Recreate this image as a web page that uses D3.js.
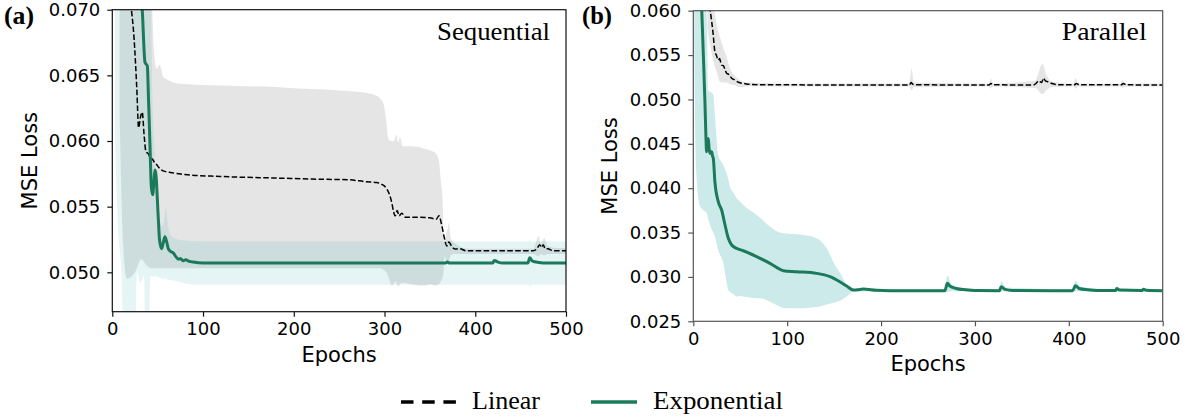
<!DOCTYPE html>
<html><head><meta charset="utf-8">
<script src="https://cdn.jsdelivr.net/npm/d3@7"></script>
<style>body{margin:0;background:#fff}</style>
</head><body>
<svg id="c" width="1192" height="418" xmlns="http://www.w3.org/2000/svg"></svg>
<script>
// ---------- tick labels ----------
const xTicks = [0, 100, 200, 300, 400, 500];
const seqYTicks = [0.050, 0.055, 0.060, 0.065, 0.070];
const parYTicks = [0.025, 0.030, 0.035, 0.040, 0.045, 0.050, 0.055, 0.060];
const seriesNames = ["Linear", "Exponential"];
const panelTitles = ["Sequential", "Parallel"];
const panelLetters = ["(a)", "(b)"];

// ---------- (a) Sequential : Linear mean ----------
const seqLinE = [20,21,24,27,29,31,33,35,37,40,42,44.5,47,49,51,54,60,64,80,119,185,220,260,280,291,297,302,305,308,310,311.7,314,316,319,323,332,350,357,360,363,365.7,368.7,371,373,375,378,383,390,464,468,471,473,475,477,480,485,500];
const seqLinV = [0.0705,0.0700,0.0678,0.0640,0.0610,0.0618,0.0622,0.0605,0.0592,0.0590,0.0587,0.0586,0.0583,0.0582,0.0580,0.0578,0.05765,0.0576,0.05745,0.0573,0.05717,0.0571,0.05705,0.0569,0.05684,0.0567,0.0564,0.0560,0.0553,0.0546,0.0543,0.0547,0.0543,0.0545,0.0542,0.0542,0.05415,0.05405,0.0543,0.0536,0.0527,0.0520,0.0523,0.0521,0.0519,0.05177,0.0518,0.05164,0.05164,0.0518,0.0521,0.0519,0.0521,0.0518,0.0518,0.05165,0.05164];
// Linear band
const seqLinBandE = [8,12,16,25,32,38,44,46,49,52,56,60,71,119,185,207,260,285,295,299,302,304,305,308,310,312,313,315,317,320,330,340,345,350,356,360,362,364,365.5,366,368,370,371,373,378,380,390,464,470,472,476,480,490,500];
const seqLinBandUp = [0.080,0.080,0.080,0.080,0.080,0.080,0.0700,0.0668,0.0655,0.0658,0.0649,0.0647,0.0644,0.06422,0.0641,0.0640,0.0638,0.0636,0.06326,0.0628,0.0615,0.0602,0.0601,0.0600,0.0600,0.0603,0.0605,0.0599,0.0603,0.0596,0.0596,0.0595,0.0594,0.0593,0.0591,0.0585,0.0570,0.0555,0.0524,0.0524,0.0530,0.0534,0.0538,0.0526,0.0522,0.0521,0.0518,0.0518,0.0528,0.0522,0.0526,0.0520,0.05185,0.05185];
const seqLinBandLo = [0.062,0.052,0.0495,0.0500,0.0510,0.0505,0.0503,0.0503,0.0503,0.0503,0.0503,0.0503,0.0503,0.0503,0.0503,0.0503,0.0503,0.0503,0.0503,0.0502,0.0500,0.0497,0.0495,0.0490,0.0491,0.0493,0.0492,0.0489,0.0491,0.0492,0.0491,0.0490,0.0490,0.0491,0.0490,0.0491,0.0493,0.0496,0.0505,0.0512,0.0509,0.0506,0.0508,0.0513,0.0514,0.0514,0.0514,0.0514,0.0512,0.0514,0.0513,0.0514,0.0514,0.0514];

// ---------- (a) Sequential : Exponential mean ----------
const seqExpE = [32,33,36,38.6,40,41.6,43,44.5,46,47,48,50.7,52,54.4,56,58,60,61.7,64,67.3,70,72.8,75,78.3,81,84,89,100,367,369,372,419,421,425,430,458,460,463,470,480,500];
const seqExpV = [0.0710,0.0700,0.0660,0.0657,0.0630,0.0595,0.0565,0.0559,0.0570,0.0578,0.0575,0.0541,0.0525,0.0518,0.0522,0.0527,0.0523,0.0518,0.0516,0.05146,0.0512,0.0510,0.05105,0.05088,0.05095,0.05085,0.05078,0.0507,0.0507,0.05078,0.0507,0.0507,0.0509,0.05078,0.0507,0.0507,0.0511,0.05085,0.05075,0.0507,0.0507];
// Exponential band
const seqExpBandE = [3,6,10,13,25,27,31,35,37,40,42,44,46,49,52,56,59,62,66,72,86,100,367,369,371,459,460,462,500];
const seqExpBandUp = [0.075,0.080,0.080,0.080,0.080,0.080,0.080,0.080,0.080,0.080,0.075,0.0640,0.0600,0.0565,0.0540,0.0535,0.0549,0.0533,0.0527,0.0525,0.05238,0.05235,0.05235,0.05250,0.05235,0.05235,0.05250,0.05235,0.05235];
const seqExpBandLo = [0.060,0.054,0.050,0.044,0.044,0.0500,0.0492,0.0498,0.044,0.044,0.0497,0.0497,0.0497,0.0497,0.0496,0.0495,0.0495,0.0494,0.0494,0.0493,0.0491,0.04905,0.04905,0.04905,0.04905,0.04905,0.0489,0.04905,0.04905];

// ---------- (b) Parallel : Linear mean ----------
const parLinE = [17,18,19.6,21,23,24.5,26.7,28,30,32,34,35.5,38,40.9,44,48,54,60.4,80,230,232,234,240,315,317,319,362,365,368,371,373,375,378,382,390,406,408,411,456,458,461,500];
const parLinV = [0.0605,0.0600,0.05876,0.0575,0.05538,0.0550,0.05444,0.0546,0.05388,0.0538,0.0533,0.05294,0.0528,0.05238,0.0522,0.05193,0.0518,0.0517,0.05165,0.05163,0.0519,0.0517,0.05165,0.05163,0.0518,0.05165,0.05163,0.0518,0.0521,0.0519,0.0524,0.0521,0.0520,0.0518,0.05165,0.05165,0.0518,0.05165,0.05165,0.0518,0.05165,0.05163];
const parLinBandE = [15,18,22,25,28.4,32,35.5,39,44,49.7,60,100,230,232.5,235,315,317,319,364,372,376,382,405,407,410,455,457,460,500];
const parLinBandUp = [0.065,0.065,0.0605,0.0584,0.0570,0.0558,0.0548,0.0535,0.0527,0.0522,0.0519,0.0518,0.0518,0.0535,0.0519,0.0518,0.0524,0.0518,0.0521,0.0540,0.0528,0.0520,0.0518,0.0524,0.0518,0.0518,0.0522,0.0518,0.0518];
const parLinBandLo = [0.0580,0.0561,0.0540,0.0531,0.0520,0.0519,0.0519,0.0517,0.0516,0.0514,0.0515,0.05145,0.05145,0.0510,0.0514,0.05145,0.0512,0.05145,0.0513,0.0506,0.0510,0.0514,0.05145,0.0512,0.05145,0.05145,0.0513,0.05145,0.05145];

// ---------- (b) Parallel : Exponential mean ----------
const parExpE = [8,9,10.7,12.5,13.5,14.2,15,16,16.8,17.8,19,19.6,20.5,21.3,23,26.6,30.2,33.8,37.3,40.9,43,46.2,53.3,67.5,81.7,90,95.9,110,131.4,145.6,156,163,170.4,175,181,195,209.5,268,270.6,273,280,290,300,326,328,332,340,404,407,411,420,430,450,451,454,478,479.5,483,500];
const parExpV = [0.0620,0.0600,0.0550,0.04937,0.04562,0.04411,0.0450,0.0456,0.0445,0.04393,0.0441,0.0441,0.0436,0.04337,0.04073,0.03848,0.03754,0.03585,0.03435,0.0336,0.0334,0.03322,0.03295,0.03228,0.03153,0.0310,0.0307,0.03059,0.0304,0.03003,0.02946,0.0290,0.02853,0.02855,0.02864,0.0285,0.02845,0.02845,0.02928,0.0290,0.0287,0.02855,0.02847,0.02845,0.0289,0.0286,0.02848,0.02845,0.0290,0.0287,0.02855,0.02847,0.02848,0.0287,0.02852,0.02848,0.0286,0.0285,0.02845];
const parExpBandE = [1,3,7,11,14.2,16,19,21.3,23,26.6,32,37.3,39,42.6,46.2,49.7,53.3,67.5,71,81.7,92.3,95.9,110,117,131.4,142,152.8,156,163.5,170.4,175,200,268,270.6,275,290,326,328,333,404,407,412,450,500];
const parExpBandUp = [0.070,0.070,0.070,0.070,0.0600,0.0510,0.0508,0.0505,0.04825,0.04374,0.04261,0.0410,0.04017,0.0395,0.03886,0.0385,0.0381,0.03698,0.0367,0.03566,0.0350,0.03491,0.0348,0.03472,0.03435,0.03322,0.03097,0.0305,0.02909,0.0286,0.0287,0.0286,0.0286,0.0302,0.0292,0.0287,0.0286,0.0295,0.0288,0.0286,0.0296,0.0289,0.0286,0.0286];
const parExpBandLo = [0.0560,0.0420,0.0380,0.0375,0.03717,0.0365,0.0355,0.0350,0.03453,0.0330,0.03154,0.02853,0.02834,0.02808,0.02777,0.02785,0.0278,0.0276,0.02759,0.0272,0.02664,0.0265,0.02646,0.02648,0.0266,0.0269,0.0272,0.02732,0.0278,0.02834,0.0284,0.02835,0.02835,0.0283,0.0284,0.02838,0.02835,0.0284,0.02838,0.02835,0.0284,0.02838,0.02835,0.02835];

// ---------- styling ----------
const GREEN = "#1b7a5a";
const TEAL = "rgb(0,150,150)";
const SANS = "DejaVu Sans";
const SERIF = "Liberation Serif";

const svg = d3.select("#c");
const zip = (e, v) => e.map((x, i) => [x, v[i]]);
const zip3 = (e, a, b) => e.map((x, i) => [x, a[i], b[i]]);

const panels = [
  { id: "a", left: 112.3, right: 566, top: 9.7, bottom: 311.7, yDomain: [0.047, 0.070], yTicks: seqYTicks,
    spine: "#111", tealOpacity: 0.1,
    linBand: zip3(seqLinBandE, seqLinBandLo, seqLinBandUp), expBand: zip3(seqExpBandE, seqExpBandLo, seqExpBandUp),
    lin: zip(seqLinE, seqLinV), exp: zip(seqExpE, seqExpV), title: panelTitles[0], letter: panelLetters[0],
    letterX: 4, ylabX: 37, titleLen: 113 },
  { id: "b", left: 693.3, right: 1162.7, top: 10.7, bottom: 321.3, yDomain: [0.025, 0.060], yTicks: parYTicks,
    spine: "#555", tealOpacity: 0.2,
    linBand: zip3(parLinBandE, parLinBandLo, parLinBandUp), expBand: zip3(parExpBandE, parExpBandLo, parExpBandUp),
    lin: zip(parLinE, parLinV), exp: zip(parExpE, parExpV), title: panelTitles[1], letter: panelLetters[1],
    letterX: 582, ylabX: 617, titleLen: 85 }
];

panels.forEach(p => {
  const x = d3.scaleLinear().domain([0, 500]).range([p.left, p.right]);
  const y = d3.scaleLinear().domain(p.yDomain).range([p.bottom, p.top]);
  const g = svg.append("g");
  const clipId = "clip-" + p.id;
  svg.append("defs").append("clipPath").attr("id", clipId)
    .append("rect").attr("x", p.left).attr("y", p.top)
    .attr("width", p.right - p.left).attr("height", p.bottom - p.top);
  const plot = g.append("g").attr("clip-path", `url(#${clipId})`);

  const area = d3.area().x(d => x(d[0])).y0(d => y(d[1])).y1(d => y(d[2])).curve(d3.curveMonotoneX);
  const line = d3.line().x(d => x(d[0])).y(d => y(d[1])).curve(d3.curveMonotoneX);

  plot.append("path").datum(p.linBand).attr("d", area).attr("fill", "#000").attr("fill-opacity", 0.1);
  plot.append("path").datum(p.expBand).attr("d", area).attr("fill", TEAL).attr("fill-opacity", p.tealOpacity);
  plot.append("path").datum(p.lin).attr("d", line).attr("fill", "none").attr("stroke", "#000")
    .attr("stroke-width", 1.5).attr("stroke-dasharray", "5.5,2.4");
  plot.append("path").datum(p.exp).attr("d", line).attr("fill", "none").attr("stroke", GREEN)
    .attr("stroke-width", 3).attr("stroke-linejoin", "round");

  // frame
  g.append("rect").attr("x", p.left).attr("y", p.top).attr("width", p.right - p.left)
    .attr("height", p.bottom - p.top).attr("fill", "none").attr("stroke", p.spine).attr("stroke-width", 1.2);

  // axes
  const xa = g.append("g").attr("transform", `translate(0,${p.bottom})`)
    .call(d3.axisBottom(x).tickValues(xTicks).tickSize(5).tickPadding(6).tickFormat(d3.format("d")));
  const ya = g.append("g").attr("transform", `translate(${p.left},0)`)
    .call(d3.axisLeft(y).tickValues(p.yTicks).tickSize(5).tickPadding(7).tickFormat(d3.format(".3f")));
  [xa, ya].forEach(a => {
    a.select(".domain").remove();
    a.selectAll("line").attr("stroke", p.spine).attr("stroke-width", 1.2);
    a.selectAll("text").attr("font-family", SANS).attr("font-size", 18).attr("fill", "#000");
  });

  // axis labels
  g.append("text").attr("x", (p.left + p.right) / 2).attr("y", p.bottom + 50)
    .attr("text-anchor", "middle").attr("font-family", SANS).attr("font-size", 21).text("Epochs");
  g.append("text").attr("transform", `translate(${p.ylabX},${(p.top + p.bottom) / 2}) rotate(-90)`)
    .attr("text-anchor", "middle").attr("font-family", SANS).attr("font-size", 21).text("MSE Loss");

  // title & letter
  g.append("text").attr("x", p.right - 16).attr("y", 40).attr("text-anchor", "end")
    .attr("font-family", SERIF).attr("font-size", 25).attr("textLength", p.titleLen)
    .attr("lengthAdjust", "spacingAndGlyphs").text(p.title);
  g.append("text").attr("x", p.letterX).attr("y", 24).attr("font-family", SERIF)
    .attr("font-weight", "bold").attr("font-size", 25).attr("textLength", 30)
    .attr("lengthAdjust", "spacingAndGlyphs").text(p.letter);
});

// legend
const lg = svg.append("g");
lg.append("line").attr("x1", 401).attr("x2", 456).attr("y1", 402).attr("y2", 402)
  .attr("stroke", "#000").attr("stroke-width", 3.5).attr("stroke-dasharray", "12.5,8.7");
lg.append("text").attr("x", 472).attr("y", 409).attr("font-family", SERIF).attr("font-size", 25)
  .attr("textLength", 68).attr("lengthAdjust", "spacingAndGlyphs").text(seriesNames[0]);
lg.append("line").attr("x1", 591).attr("x2", 637).attr("y1", 402).attr("y2", 402)
  .attr("stroke", GREEN).attr("stroke-width", 3.5);
lg.append("text").attr("x", 653).attr("y", 409).attr("font-family", SERIF).attr("font-size", 25)
  .attr("textLength", 130).attr("lengthAdjust", "spacingAndGlyphs").text(seriesNames[1]);
</script>
</body></html>
